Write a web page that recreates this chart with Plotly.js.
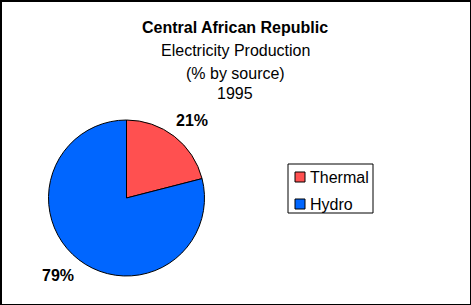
<!DOCTYPE html>
<html>
<head>
<meta charset="utf-8">
<script src="https://cdn.plot.ly/plotly-3.0.1.min.js"></script>
<style>
html,body{margin:0;padding:0;background:#fff;}
#wrap{position:relative;width:471px;height:305px;overflow:hidden;}
#chart{width:471px;height:305px;}
#frame{position:absolute;left:0;top:0;width:471px;height:305px;box-sizing:border-box;border-style:solid;border-color:#000;border-width:2px 1px 1px 2px;pointer-events:none;}
</style>
</head>
<body>
<div id="wrap"><div id="chart"></div><div id="frame"></div></div>
<script>
const titleLines = ["Central African Republic", "Electricity Production", "(% by source)", "1995"];
const sources = ["Thermal", "Hydro"];
const shares = [21, 79];
const colors = ["#FF5050", "#0066FF"];

const W = 471, H = 305;
const FONT = "Liberation Sans, Arial, Helvetica, sans-serif";
const total = shares.reduce((a, b) => a + b, 0);
const pct = shares.map(v => Math.round(v / total * 100) + "%");

const px = x => x / W;
const py = y => 1 - y / H;

const titleY = [27.5, 50.5, 73, 94];
const labelPos = [[192, 121], [58, 275]];

// legend layout (pixel positions)
const legBox = {x0: 288, y0: 164, x1: 373, y1: 213};
const legRowY = [177, 204];
const swX0 = 295, swSize = 10, legTextX = 308;

const annotations = titleLines.map((t, i) => ({
  text: i === 0 ? "<b>" + t + "</b>" : t,
  xref: "paper", yref: "paper", x: px(235), y: py(titleY[i]),
  xanchor: "center", yanchor: "middle", showarrow: false,
  font: {family: FONT, size: 16, color: "#000"}
})).concat(pct.map((p, i) => ({
  text: "<b>" + p + "</b>",
  xref: "paper", yref: "paper", x: px(labelPos[i][0]), y: py(labelPos[i][1]),
  xanchor: "center", yanchor: "middle", showarrow: false,
  font: {family: FONT, size: 16, color: "#000"}
}))).concat(sources.map((s, i) => ({
  text: s,
  xref: "paper", yref: "paper", x: px(legTextX), y: py(legRowY[i]),
  xanchor: "left", yanchor: "middle", showarrow: false,
  font: {family: FONT, size: 16, color: "#000"}
})));

const shapes = [{
  type: "rect", xref: "paper", yref: "paper",
  x0: px(legBox.x0), x1: px(legBox.x1), y0: py(legBox.y0), y1: py(legBox.y1),
  line: {color: "#000", width: 1}, fillcolor: "#fff", layer: "below"
}].concat(sources.map((s, i) => ({
  type: "rect", xref: "paper", yref: "paper",
  x0: px(swX0), x1: px(swX0 + swSize),
  y0: py(legRowY[i] - swSize / 2), y1: py(legRowY[i] + swSize / 2),
  line: {color: "#000", width: 1}, fillcolor: colors[i]
})));

Plotly.newPlot("chart", [{
  type: "pie",
  labels: sources,
  values: shares,
  sort: false,
  direction: "clockwise",
  rotation: 0,
  textinfo: "none",
  hoverinfo: "label+percent",
  marker: {colors: colors, line: {color: "#000", width: 1}},
  domain: {x: [px(48), px(205)], y: [29 / H, 185 / H]}
}], {
  width: W, height: H,
  margin: {l: 0, r: 0, t: 0, b: 0},
  paper_bgcolor: "#fff",
  plot_bgcolor: "#fff",
  showlegend: false,
  annotations: annotations,
  shapes: shapes
}, {displayModeBar: false, staticPlot: true});
</script>
</body>
</html>
